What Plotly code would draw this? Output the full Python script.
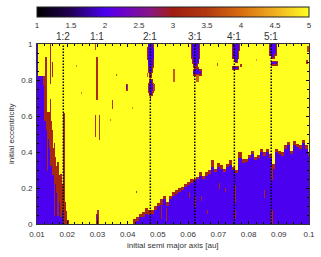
import numpy as np
import plotly.graph_objects as go

# Resonance locations and labels
res_a = [0.0187, 0.0297, 0.0475, 0.0622, 0.0753, 0.0875]
res_labels = ["1:2", "1:1", "2:1", "3:1", "4:1", "5:1"]
dotted_a = [0.0187, 0.0475, 0.0622, 0.0753, 0.0875]

# Right-hand unstable region: upper limits in eccentricity per semi-major axis
edge_a = [0.040,0.041,0.042,0.043,0.044,0.045,0.046,0.047,0.048,0.049,0.050,
          0.051,0.052,0.053,0.054,0.055,0.056,0.057,0.058,0.059,0.060,
          0.061,0.062,0.063,0.064,0.065,0.066,0.067,0.068,0.069,0.070,
          0.071,0.072,0.073,0.074,0.075,0.076,0.077,0.078,0.079,0.080,
          0.081,0.082,0.083,0.084,0.085,0.086,0.087,0.088,0.089,0.090,
          0.091,0.092,0.093,0.094,0.095,0.096,0.097,0.098,0.099,0.100]
edge_brown = [0.00,0.00,0.03,0.04,0.06,0.07,0.09,0.08,0.08,0.10,0.12,
              0.14,0.16,0.125,0.16,0.18,0.19,0.20,0.21,0.226,0.235,
              0.25,0.255,0.263,0.29,0.27,0.29,0.30,0.356,0.31,0.34,
              0.33,0.31,0.337,0.356,0.32,0.30,0.40,0.365,0.365,0.384,
              0.41,0.375,0.384,0.42,0.40,0.42,0.393,0.337,0.42,0.41,
              0.40,0.44,0.458,0.41,0.463,0.445,0.44,0.467,0.44,0.40]
edge_blue = [0.00,0.00,0.00,0.02,0.04,0.04,0.06,0.05,0.06,0.08,0.10,
             0.11,0.14,0.10,0.14,0.16,0.17,0.18,0.19,0.21,0.22,
             0.23,0.24,0.25,0.27,0.25,0.27,0.28,0.32,0.29,0.32,
             0.31,0.29,0.32,0.33,0.30,0.285,0.37,0.34,0.35,0.37,
             0.39,0.36,0.37,0.40,0.38,0.40,0.37,0.31,0.40,0.39,
             0.38,0.42,0.44,0.39,0.44,0.43,0.42,0.45,0.42,0.38]

# Left-hand unstable region: right limits in semi-major axis per eccentricity
left_e = [0.00,0.05,0.10,0.15,0.20,0.25,0.30,0.35,0.40,0.45,0.50,
          0.55,0.60,0.65,0.70,0.75,0.80,0.85,0.90,0.95,1.00]
left_blue = [0.0192,0.0187,0.0180,0.0171,0.0160,0.0155,0.0149,0.0143,0.0141,0.0138,0.0130,
             0.0127,0.0123,0.0122,0.0122,0.0120,0.0118,0.0100,0.0100,0.0100,0.0100]
left_brown = [0.0203,0.0198,0.0193,0.0190,0.0185,0.0175,0.0165,0.0160,0.0156,0.0152,0.0150,
              0.0149,0.0145,0.0133,0.0133,0.0133,0.0133,0.0100,0.0100,0.0100,0.0100]

# Resonant islands (blue core; a brown rim is added around each)
isle_a0 = [0.0467,0.0465,0.0467,0.0470,0.0472,0.0471,0.0469,0.0472,
           0.0611,0.0610,0.0613,0.0617,0.0616,0.0622,
           0.0747,0.0748,0.0752,0.0755,0.0748,
           0.0868,0.0870,0.0874,0.0874,
           0.0296,0.0296]
isle_a1 = [0.0483,0.0484,0.0483,0.0480,0.0477,0.0479,0.0481,0.0478,
           0.0634,0.0635,0.0633,0.0629,0.0640,0.0633,
           0.0766,0.0765,0.0762,0.0759,0.0764,
           0.0888,0.0888,0.0884,0.0892,
           0.0298,0.0300]
isle_e0 = [0.98,0.92,0.88,0.85,0.82,0.78,0.74,0.72,
           0.97,0.93,0.90,0.88,0.835,0.855,
           0.97,0.93,0.915,0.905,0.865,
           0.97,0.945,0.93,0.89,
           0.85,0.00]
isle_e1 = [1.00,0.98,0.92,0.88,0.85,0.80,0.78,0.74,
           1.00,0.97,0.93,0.90,0.855,0.865,
           1.00,0.97,0.93,0.915,0.875,
           1.00,0.97,0.945,0.90,
           0.89,0.05]

# Streaks and specks: lower/upper a, lower/upper e, colour-coded value
patch_a0 = [0.0126,0.0141,0.0141,0.0147,0.0186,0.0131,0.0153,0.0166,0.0176,
            0.0295,0.0290,0.0291,0.0305,0.0392,0.0393,0.0347,
            0.0361,0.0228,0.0245,0.0412,0.0340,0.0426,0.0296,
            0.0481,0.0472,0.0461,0.0625,0.0770,0.0889,
            0.0550,0.0693,0.0823,0.0993,0.0988,
            0.0874,0.0874,0.0755,0.0752,0.0620,0.0508,0.0525,0.0640,0.0700,0.0815,0.0850,0.0600,0.0720,0.0785,0.0660]
patch_a1 = [0.0133,0.0145,0.0145,0.0151,0.0190,0.0135,0.0158,0.0171,0.0181,
            0.0299,0.0294,0.0294,0.0308,0.0398,0.0396,0.0351,
            0.0364,0.0231,0.0248,0.0415,0.0343,0.0429,0.0302,
            0.0488,0.0476,0.0464,0.0634,0.0775,0.0896,
            0.0554,0.0697,0.0826,0.0998,0.0996,
            0.0878,0.0878,0.0758,0.0756,0.0624,0.0511,0.0528,0.0643,0.0703,0.0818,0.0853,0.0603,0.0723,0.0788,0.0663]
patch_e0 = [0.80,0.78,0.45,0.82,0.00,0.30,0.05,0.05,0.04,
            0.69,0.97,0.485,0.467,0.74,0.755,0.64,
            0.825,0.875,0.725,0.64,0.575,0.175,0.00,
            0.74,0.69,0.82,0.79,0.875,0.883,
            0.79,0.88,0.91,0.96,0.89,
            0.25,0.00,0.12,0.03,0.10,0.03,0.02,0.13,0.20,0.27,0.15,0.15,0.18,0.10,0.06]
patch_e1 = [0.93,1.00,0.70,0.90,0.62,0.60,0.45,0.35,0.28,
            0.93,1.00,0.606,0.606,0.78,0.775,0.69,
            0.835,0.885,0.735,0.65,0.585,0.185,0.08,
            0.78,0.72,0.84,0.83,0.89,0.907,
            0.865,0.895,0.92,0.99,0.915,
            0.32,0.08,0.22,0.08,0.15,0.10,0.09,0.16,0.23,0.30,0.19,0.18,0.20,0.12,0.08]
patch_val = [3.2,3.2,3.2,3.2,3.2,3.2,3.2,3.2,3.2,
             3.3,3.6,3.4,3.4,3.5,2.0,3.5,
             3.8,4.2,4.2,4.2,4.2,3.6,3.4,
             3.6,3.4,3.8,3.9,3.4,3.3,
             3.8,3.8,4.4,3.6,3.4,
             3.2,3.2,3.2,3.2,3.2,3.2,3.2,3.2,3.2,3.2,3.2,3.2,3.2,3.2,3.2]

# Colour bar
cbar_ticks = [1, 1.5, 2, 2.5, 3, 3.5, 4, 4.5, 5]
cbar_labels = ["1", "1.5", "2", "2.5", "3", "3.5", "4", "4.5", "5"]
colors = [[0.0, "#000000"], [0.12, "#200050"], [0.25, "#4b00f0"], [0.31, "#6a00d0"],
          [0.42, "#8a1880"], [0.5, "#a01c10"], [0.62, "#b03810"], [0.75, "#d86c10"],
          [0.875, "#f0b020"], [1.0, "#ffff20"]]

a_grid = np.linspace(0.01, 0.1, 273)
e_grid = np.linspace(0.0, 1.0, 181)
z = np.full((e_grid.size, a_grid.size), 5.0)

edge_a_arr = np.array(edge_a)
for j, a in enumerate(a_grid):
    if a >= edge_a[0]:
        k = int(np.argmin(np.abs(edge_a_arr - a)))
        z[e_grid <= edge_brown[k], j] = 3.2
        z[e_grid <= edge_blue[k], j] = 2.0
left_e_arr = np.array(left_e)
for i, e in enumerate(e_grid):
    k = int(np.argmin(np.abs(left_e_arr - e)))
    z[i, a_grid <= left_brown[k]] = 3.2
    z[i, a_grid <= left_blue[k]] = 2.0
for a0, a1, e0, e1 in zip(isle_a0, isle_a1, isle_e0, isle_e1):
    z[np.ix_((e_grid >= e0 - 0.008) & (e_grid <= e1 + 0.008),
             (a_grid >= a0 - 0.0003) & (a_grid <= a1 + 0.0003))] = 3.2
for a0, a1, e0, e1, v in zip(patch_a0, patch_a1, patch_e0, patch_e1, patch_val):
    z[np.ix_((e_grid >= e0) & (e_grid <= e1), (a_grid >= a0) & (a_grid <= a1))] = v
for a0, a1, e0, e1 in zip(isle_a0, isle_a1, isle_e0, isle_e1):
    z[np.ix_((e_grid >= e0) & (e_grid <= e1), (a_grid >= a0) & (a_grid <= a1))] = 2.0

TXT = "#333333"
FONT = "Liberation Sans, Arial, sans-serif"
fig = go.Figure()
fig.add_trace(go.Heatmap(
    x=a_grid, y=e_grid, z=z, zmin=1, zmax=5, colorscale=colors, zsmooth=False,
    hoverinfo="skip",
    colorbar=dict(orientation="h", x=0.5, xanchor="center", y=1.094, yanchor="bottom",
                  len=1, lenmode="fraction", thickness=10, xpad=0, ypad=0,
                  outlinecolor="#222222", outlinewidth=1,
                  tickmode="array", tickvals=cbar_ticks, ticktext=cbar_labels,
                  ticks="", tickfont=dict(size=8, color=TXT, family=FONT)),
))
for a in dotted_a:
    fig.add_trace(go.Scatter(x=[a, a], y=[0, 1], mode="lines", showlegend=False, hoverinfo="skip",
                             line=dict(color="black", width=1.5, dash="1.5px,1.5px")))
for a, lab in zip(res_a, res_labels):
    fig.add_annotation(x=a, y=1, xref="x", yref="y", text=lab, showarrow=False, yshift=7.5,
                       font=dict(size=10, color=TXT, family=FONT))
fig.add_annotation(x=0.5, y=0, xref="paper", yref="paper", yshift=-21, yanchor="middle",
                   text="initial semi major axis [au]", showarrow=False,
                   font=dict(size=8, color=TXT, family=FONT))
fig.add_annotation(x=0, y=0.5, xref="paper", yref="paper", xshift=-26, xanchor="center",
                   text="initial eccentricity", textangle=-90, showarrow=False,
                   font=dict(size=8, color=TXT, family=FONT))

axis_common = dict(showgrid=False, zeroline=False, showline=True, linecolor="#333333", linewidth=1,
                   mirror="ticks", ticks="inside", ticklen=3, tickcolor="black", tickwidth=1,
                   tickfont=dict(size=8, color=TXT, family=FONT), ticklabelstandoff=2)
fig.update_xaxes(range=[0.01, 0.1], tickmode="array",
                 tickvals=[0.01,0.02,0.03,0.04,0.05,0.06,0.07,0.08,0.09,0.1],
                 ticktext=["0.01","0.02","0.03","0.04","0.05","0.06","0.07","0.08","0.09","0.1"],
                 minor=dict(dtick=0.0025, tick0=0.01, ticks="inside", ticklen=2, tickcolor="black", showgrid=False),
                 **axis_common)
fig.update_yaxes(range=[0, 1], tickmode="array", tickvals=[0,0.2,0.4,0.6,0.8,1],
                 ticktext=["0","0.2","0.4","0.6","0.8","1"],
                 minor=dict(dtick=0.05, tick0=0, ticks="inside", ticklen=2, tickcolor="black", showgrid=False),
                 **axis_common)
fig.update_layout(width=321, height=257, showlegend=False, paper_bgcolor="white", plot_bgcolor="white",
                  margin=dict(l=37, r=11.5, t=44, b=33, autoexpand=False))
fig.write_html("out.html", config={"displayModeBar": False},
               post_script="document.body.style.margin='0';document.body.style.overflow='hidden';")
